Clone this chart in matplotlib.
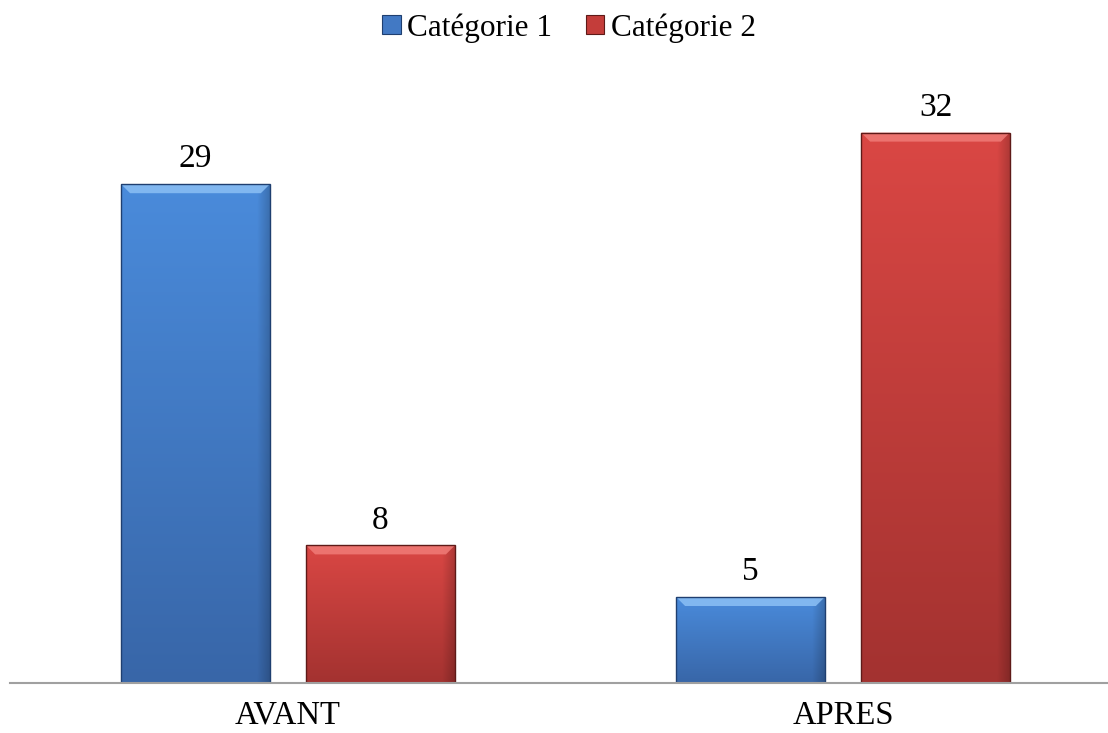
import numpy as np
import matplotlib
matplotlib.use("Agg")
import matplotlib.pyplot as plt
from matplotlib.patches import Patch, Polygon
from matplotlib.colors import LinearSegmentedColormap

plt.rcParams["font.family"] = ["Liberation Serif", "DejaVu Serif"]

# Data
categories = ["AVANT", "APRES"]
series_names = ["Catégorie 1", "Catégorie 2"]
values_cat1 = [29, 5]
values_cat2 = [8, 32]

fig = plt.figure(figsize=(11.08, 7.33), dpi=100)
W, H = 1108, 733
ax_left, ax_right, ax_bottom_px = 10, 1108, 683
ymax = 35
px_per_unit = 17.2
ax_h = ymax * px_per_unit
ax = fig.add_axes([ax_left / W, (H - ax_bottom_px) / H,
                   (ax_right - ax_left) / W, ax_h / H])

x = np.arange(len(categories))
width = 0.268
offset = 0.1667

styles = [
    dict(top="#4A8BDB", bot="#3866A8", edge="#1F3F70", bevel="#8CC0F5", mid="#4279C4"),
    dict(top="#DA4744", bot="#A33230", edge="#5E1A18", bevel="#F07C78", mid="#C43D3A"),
]

ax.set_xlim(-0.5009, 1.4775)
ax.set_ylim(0, ymax)

data_per_px_x = (1.4775 + 0.5009) / (ax_right - ax_left)
data_per_px_y = ymax / ax_h


def gradient_bar(patch, st):
    x0, y0 = patch.get_x(), patch.get_y()
    w, h = patch.get_width(), patch.get_height()
    cmap = LinearSegmentedColormap.from_list("g", [st["bot"], st["top"]])
    grad = np.linspace(0, 1, 256).reshape(-1, 1)
    # slight darkening toward the right edge
    horiz = np.ones((1, 64))
    horiz[0, -6:] = np.linspace(1.0, 0.82, 6)
    rgba = cmap(grad * np.ones((1, 64)))
    rgba[..., :3] *= horiz[..., None]
    im = ax.imshow(rgba, extent=[x0, x0 + w, y0, y0 + h], origin="lower",
                   aspect="auto", zorder=2, interpolation="bilinear")
    im.set_clip_path(patch)
    # bevel highlight along the top edge
    bx = 9 * data_per_px_x
    by = 9 * data_per_px_y
    top = y0 + h
    bevel = Polygon([[x0, top], [x0 + w, top], [x0 + w - bx, top - by],
                     [x0 + bx, top - by]], closed=True,
                    facecolor=st["bevel"], edgecolor="none", alpha=0.85,
                    zorder=3)
    ax.add_patch(bevel)


for i, (vals, st) in enumerate(zip([values_cat1, values_cat2], styles)):
    pos = x + (-offset if i == 0 else offset)
    bars = ax.bar(pos, vals, width, facecolor="none", edgecolor=st["edge"],
                  linewidth=1.0, zorder=4)
    for b, v in zip(bars, vals):
        gradient_bar(b, st)
        ax.annotate(f"{v}", (b.get_x() + b.get_width() / 2, v),
                    xytext=(0, 7), textcoords="offset points",
                    ha="center", va="bottom", fontsize=24, color="black")

for s in ["top", "right", "left"]:
    ax.spines[s].set_visible(False)
ax.spines["bottom"].set_color("#A0A0A0")
ax.spines["bottom"].set_linewidth(1.5)
ax.spines["bottom"].set_zorder(5)
ax.set_yticks([])
ax.set_xticks(x)
ax.set_xticklabels(categories, fontsize=23.5)
ax.tick_params(axis="x", length=0, pad=12.5)
ax.patch.set_visible(False)

handles = [Patch(facecolor=styles[0]["mid"], edgecolor=styles[0]["edge"], linewidth=0.8),
           Patch(facecolor=styles[1]["mid"], edgecolor=styles[1]["edge"], linewidth=0.8)]
fig.legend(handles, series_names, loc="center", bbox_to_anchor=(569 / W, 1 - 28 / H),
           ncol=2, frameon=False, fontsize=22.5, handlelength=0.58, handleheight=0.58,
           handletextpad=0.2, columnspacing=1.1, borderpad=0.1)

fig.savefig("out.png", dpi=100)
